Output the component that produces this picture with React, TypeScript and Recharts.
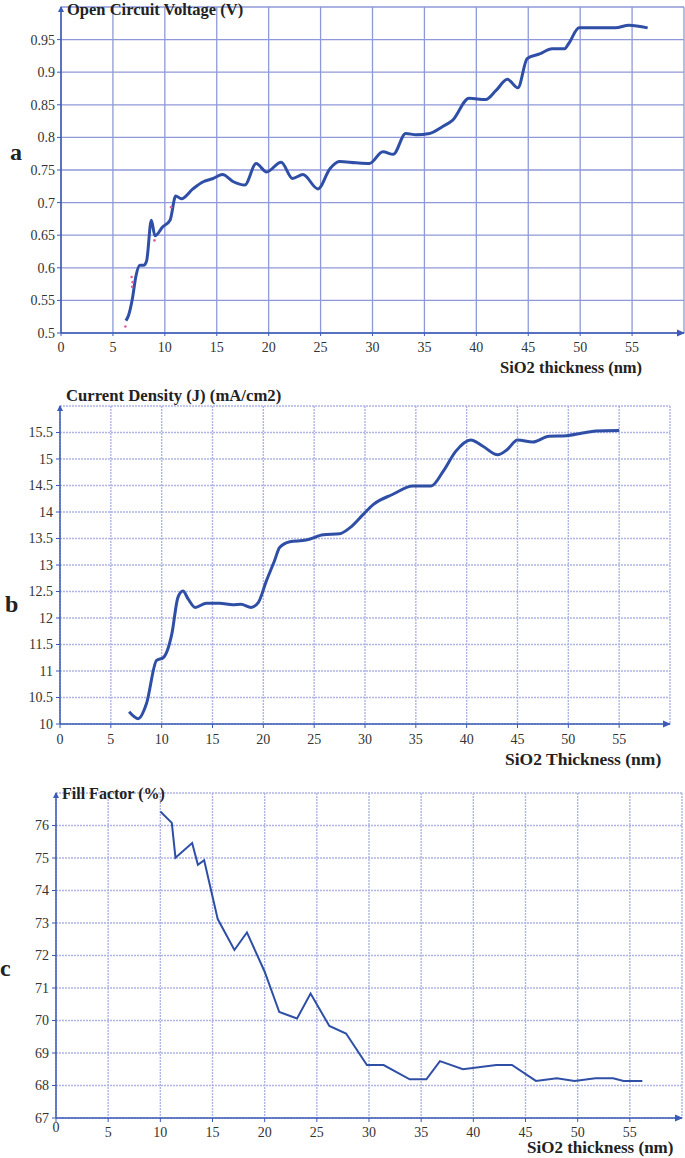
import React from 'react';
import { ComposedChart, Line, Scatter, XAxis, YAxis, CartesianGrid } from 'recharts';

// panel a - open circuit voltage
const aThickness = [6.25, 6.5, 6.9, 7.2, 7.6, 8.0, 8.25, 8.7, 9.05, 9.8, 10.5, 11.05, 11.6, 12.7, 13.7, 14.65, 15.55, 16.6, 17.7, 18.8, 19.8, 21.2, 22.3, 23.3, 24.75, 25.9, 26.8, 28.4, 29.7, 31.0, 32.0, 33.2, 34.2, 35.5, 36.8, 37.7, 39.3, 40.9, 41.9, 43.0, 44.0, 44.9, 46.1, 47.3, 48.5, 48.9, 49.9, 52.1, 53.4, 54.7, 56.5];
const aVoc = [0.519, 0.527, 0.555, 0.586, 0.604, 0.604, 0.611, 0.673, 0.649, 0.663, 0.673, 0.71, 0.706, 0.721, 0.732, 0.737, 0.743, 0.732, 0.727, 0.76, 0.747, 0.762, 0.737, 0.743, 0.721, 0.752, 0.763, 0.761, 0.76, 0.778, 0.774, 0.806, 0.804, 0.806, 0.817, 0.826, 0.86, 0.858, 0.872, 0.889, 0.876, 0.921, 0.928, 0.936, 0.936, 0.944, 0.968, 0.968, 0.968, 0.972, 0.968];
const aDotThickness = [6.2, 6.8, 6.9, 6.85, 9.0, 10.6];
const aDotVoc = [0.51, 0.586, 0.578, 0.571, 0.642, 0.693];
const aYTicks = [0.5, 0.55, 0.6, 0.65, 0.7, 0.75, 0.8, 0.85, 0.9, 0.95];

// panel b - current density
const bThickness = [6.8, 7.7, 8.5, 9.5, 10.15, 11.0, 11.6, 12.1, 12.6, 13.3, 14.4, 15.7, 17.0, 17.8, 18.8, 19.5, 20.3, 21.1, 21.6, 22.6, 24.2, 25.9, 27.5, 28.5, 29.8, 30.8, 32.7, 34.7, 36.5, 37.7, 38.9, 40.4, 41.6, 43.05, 44.0, 45.0, 46.5, 48.1, 49.8, 51.4, 52.7, 55.0];
const bJ = [10.23, 10.1, 10.38, 11.2, 11.25, 11.7, 12.39, 12.51, 12.36, 12.2, 12.28, 12.28, 12.25, 12.26, 12.2, 12.29, 12.7, 13.08, 13.33, 13.44, 13.47, 13.57, 13.59, 13.7, 13.95, 14.14, 14.33, 14.49, 14.49, 14.77, 15.14, 15.36, 15.24, 15.08, 15.18, 15.36, 15.32, 15.43, 15.44, 15.49, 15.53, 15.54];
const bYTicks = [10, 10.5, 11, 11.5, 12, 12.5, 13, 13.5, 14, 14.5, 15, 15.5];

// panel c - fill factor
const cThickness = [10.0, 11.1, 11.45, 13.05, 13.6, 14.2, 15.5, 17.1, 18.3, 20.0, 21.4, 23.1, 24.4, 26.2, 27.8, 29.8, 31.4, 33.9, 35.5, 36.8, 39.0, 42.2, 43.7, 46.0, 48.0, 49.7, 51.7, 53.4, 54.4, 56.2];
const cFF = [76.43, 76.08, 75.01, 75.46, 74.79, 74.93, 73.12, 72.17, 72.71, 71.5, 70.26, 70.06, 70.83, 69.83, 69.6, 68.63, 68.63, 68.19, 68.19, 68.75, 68.5, 68.63, 68.63, 68.14, 68.22, 68.14, 68.22, 68.22, 68.14, 68.14];
const cYTicks = [67, 68, 69, 70, 71, 72, 73, 74, 75, 76];

const xTicks = [0, 5, 10, 15, 20, 25, 30, 35, 40, 45, 50, 55];

const AXIS = '#3b5bb5';
const LINE = '#2f4fa6';
const FONT = '"Liberation Serif", "Times New Roman", serif';

const zip = (xs: number[], ys: number[]) => xs.map((x, i) => ({ x, v: ys[i] }));

const XArrow = (props: any) => {
  const { x, y, width } = props.viewBox;
  const e = x + width;
  return <path d={`M${e - 7},${y - 3.5} L${e + 1},${y} L${e - 7},${y + 3.5} Z`} fill={AXIS} />;
};

const YArrow = (props: any) => {
  const { x, y, width } = props.viewBox;
  const e = x + width;
  return <path d={`M${e - 3},${y + 5} L${e},${y - 1} L${e + 3},${y + 5} Z`} fill={AXIS} />;
};

// serif tick text; raiseZero lifts the "0" at the origin like panel c
const SerifTick = (props: any) => {
  const { x, y, payload, textAnchor, raiseZero, vertical } = props;
  const dy = vertical ? '0.35em' : '0.71em';
  const yy = raiseZero && payload.value === 0 ? y - 5 : y;
  return (
    <text x={x} y={yy} dy={dy} textAnchor={textAnchor} fill="#333" fontSize={14}
      style={{ fontFamily: FONT }}>
      {payload.value}
    </text>
  );
};

const boldText = (size: number): React.CSSProperties => ({
  position: 'absolute',
  fontFamily: FONT,
  fontWeight: 'bold',
  fontSize: size,
  color: '#222',
  whiteSpace: 'nowrap',
  lineHeight: 1,
});

const axisProps = {
  axisLine: { stroke: AXIS, strokeWidth: 1.5 },
  tickLine: { stroke: AXIS },
  allowDataOverflow: true,
};

export default function App() {
  return (
    <div style={{ position: 'absolute', left: 0, top: 0, width: 685, height: 1158, background: '#fff', fontFamily: FONT }}>
      {/* a */}
      <div style={{ position: 'absolute', left: 0, top: 0 }}>
        <ComposedChart width={685} height={380} margin={{ top: 7, right: 1, left: 0, bottom: 0 }}>
          <CartesianGrid stroke="#8f99d8" strokeWidth={1.3} />
          <XAxis dataKey="x" type="number" domain={[0, 60]} ticks={xTicks} height={47} tickSize={3} tickMargin={6}
            {...axisProps} tick={<SerifTick />} label={{ content: (p: any) => <XArrow {...p} /> }} />
          <YAxis type="number" domain={[0.5, 1]} ticks={aYTicks} width={61} tickSize={4} tickMargin={2}
            {...axisProps} tick={<SerifTick vertical />} label={{ content: (p: any) => <YArrow {...p} /> }} />
          <Scatter data={zip(aDotThickness, aDotVoc)} dataKey="v" fill="#e0609a" shape={(p: any) => <circle cx={p.cx} cy={p.cy} r={1.3} fill="#e0609a" />} isAnimationActive={false} />
          <Line data={zip(aThickness, aVoc)} dataKey="v" type="monotone" stroke={LINE} strokeWidth={3} dot={false} isAnimationActive={false} />
        </ComposedChart>
      </div>
      <div style={{ ...boldText(16.5), left: 67, top: 2 }}>Open Circuit Voltage (V)</div>
      <div style={{ ...boldText(16.5), left: 500, top: 360 }}>SiO2 thickness (nm)</div>
      <div style={{ ...boldText(24), left: 10, top: 140 }}>a</div>

      {/* b */}
      <div style={{ position: 'absolute', left: 0, top: 380 }}>
        <ComposedChart width={685} height={400} margin={{ top: 26, right: 15, left: 0, bottom: 0 }}>
          <CartesianGrid stroke="#aeb5e4" strokeWidth={1.4} strokeDasharray="2 1" />
          <XAxis dataKey="x" type="number" domain={[0, 60]} ticks={xTicks} height={56} tickSize={4} tickMargin={6}
            {...axisProps} tick={<SerifTick />} label={{ content: (p: any) => <XArrow {...p} /> }} />
          <YAxis type="number" domain={[10, 16]} ticks={bYTicks} width={60} tickSize={4} tickMargin={3}
            {...axisProps} tick={<SerifTick vertical />} label={{ content: (p: any) => <YArrow {...p} /> }} />
          <Line data={zip(bThickness, bJ)} dataKey="v" type="monotone" stroke={LINE} strokeWidth={3} dot={false} isAnimationActive={false} />
        </ComposedChart>
      </div>
      <div style={{ ...boldText(16.7), left: 66, top: 388 }}>Current Density (J) (mA/cm2)</div>
      <div style={{ ...boldText(17.5), left: 505, top: 751 }}>SiO2 Thickness (nm)</div>
      <div style={{ ...boldText(24), left: 5, top: 592 }}>b</div>

      {/* c */}
      <div style={{ position: 'absolute', left: 0, top: 780 }}>
        <ComposedChart width={685} height={378} margin={{ top: 13, right: 3, left: 0, bottom: 0 }}>
          <CartesianGrid stroke="#aeb5e4" strokeWidth={1.4} strokeDasharray="2 1" />
          <XAxis dataKey="x" type="number" domain={[0, 60]} ticks={xTicks} height={40} tickSize={4} tickMargin={5}
            {...axisProps} tick={<SerifTick raiseZero />} label={{ content: (p: any) => <XArrow {...p} /> }} />
          <YAxis type="number" domain={[67, 77]} ticks={cYTicks} width={56} tickSize={4} tickMargin={3}
            {...axisProps} tick={<SerifTick vertical />} label={{ content: (p: any) => <YArrow {...p} /> }} />
          <Line data={zip(cThickness, cFF)} dataKey="v" type="linear" stroke={LINE} strokeWidth={2} dot={false} isAnimationActive={false} />
        </ComposedChart>
      </div>
      <div style={{ ...boldText(16), left: 62, top: 786 }}>Fill Factor (%)</div>
      <div style={{ ...boldText(17), left: 527, top: 1139 }}>SiO2 thickness (nm)</div>
      <div style={{ ...boldText(24), left: 0, top: 956 }}>c</div>
    </div>
  );
}
